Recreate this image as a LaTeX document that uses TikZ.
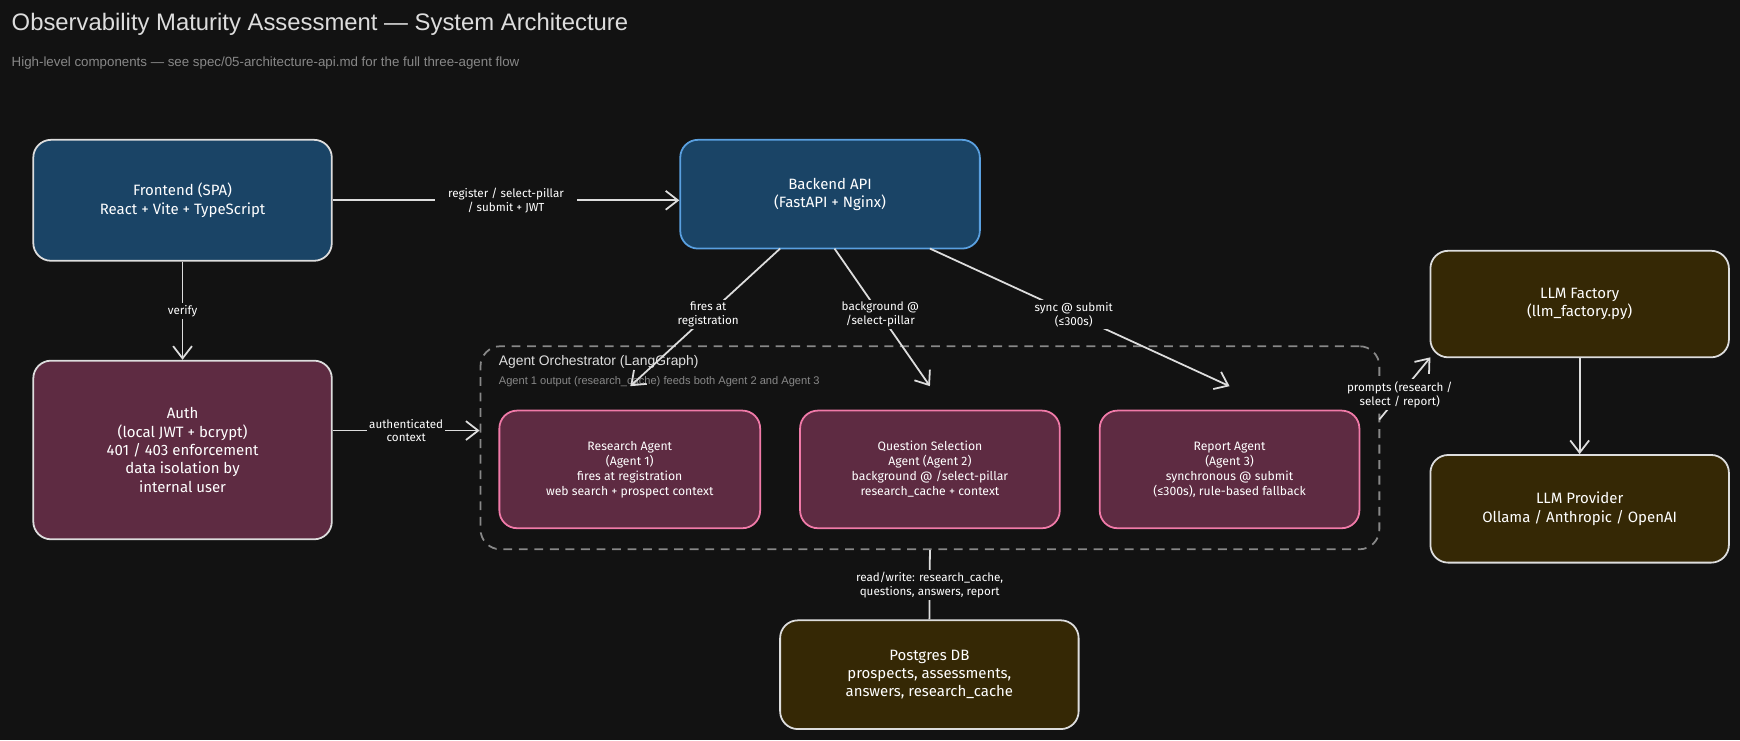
\documentclass[tikz,border=0pt]{standalone}
\usepackage{fontspec}
\setmainfont{Fira Sans}
\newfontfamily\titlefont{Liberation Sans}
\usetikzlibrary{arrows.meta}
\definecolor{bg}{HTML}{121212}
\definecolor{bluef}{HTML}{1A4466}
\definecolor{maroon}{HTML}{5E2B42}
\definecolor{brownf}{HTML}{352805}
\definecolor{edge}{HTML}{DDDDDD}
\definecolor{lblue}{HTML}{5AA0E0}
\definecolor{pink}{HTML}{F07AA8}
\definecolor{dgray}{HTML}{888888}
\tikzset{
 box/.style={draw=edge,line width=1.6pt,rounded corners=16pt,text=white,align=center,font=\fontsize{13.5}{16.5}\selectfont,inner sep=0pt},
 agent/.style={box,draw=pink,fill=maroon,font=\fontsize{11}{13.5}\selectfont},
 conn/.style={draw=edge,line width=1.6pt},
 arr/.style={conn,-{Straight Barb[length=11pt,width=17pt]}},
 lbl/.style={fill=bg,text=white,align=center,font=\fontsize{10.5}{12.5}\selectfont,inner sep=2pt},
}
\begin{document}
\begin{tikzpicture}[x=1pt,y=-1pt]
\fill[bg] (0,0) rectangle (1568,667);
\useasboundingbox (0,0) rectangle (1568,667);
\node[anchor=west,text=edge,font=\titlefont\fontsize{21.5}{25}\selectfont] (title) at (7,22) {Observability Maturity Assessment — System Architecture};
\node[anchor=west,text=dgray,font=\titlefont\fontsize{12}{14}\selectfont] (sub) at (7,57) {High-level components — see spec/05-architecture-api.md for the full three-agent flow};

\node[box,fill=bluef,minimum width=269pt,minimum height=109pt] (fe) at (164.5,180.5) {Frontend (SPA)\\React + Vite + TypeScript};
\node[box,fill=bluef,draw=lblue,minimum width=270pt,minimum height=98pt] (be) at (748,175) {Backend API\\(FastAPI + Nginx)};
\node[box,fill=maroon,minimum width=269pt,minimum height=161pt] (auth) at (164.5,405.5) {Auth\\(local JWT + bcrypt)\\401 / 403 enforcement\\data isolation by\\internal user};
\node[draw=dgray,dashed,dash pattern=on 8pt off 6pt,line width=1.6pt,rounded corners=18pt,minimum width=810pt,minimum height=183pt,inner sep=0pt] (orch) at (838,403.5) {};
\node[anchor=west,text=edge,font=\titlefont\fontsize{12.5}{14}\selectfont] (ot) at (446,326) {Agent Orchestrator (LangGraph)};
\node[anchor=west,text=dgray,font=\titlefont\fontsize{10}{12}\selectfont] (os) at (446,344) {Agent 1 output (research\_cache) feeds both Agent 2 and Agent 3};
\node[agent,minimum width=235pt,minimum height=106pt] (ra) at (567.5,423) {Research Agent\\(Agent 1)\\fires at registration\\web search + prospect context};
\node[agent,minimum width=234pt,minimum height=106pt] (qa) at (838,423) {Question Selection\\Agent (Agent 2)\\background @ /select-pillar\\research\_cache + context};
\node[agent,minimum width=234pt,minimum height=106pt] (rp) at (1108,423) {Report Agent\\(Agent 3)\\synchronous @ submit\\(≤300s), rule-based fallback};
\node[box,fill=brownf,minimum width=269pt,minimum height=96pt] (lf) at (1423.5,274) {LLM Factory\\(llm\_factory.py)};
\node[box,fill=brownf,minimum width=269pt,minimum height=97pt] (lp) at (1423.5,458.5) {LLM Provider\\Ollama / Anthropic / OpenAI};
\node[box,fill=brownf,minimum width=269pt,minimum height=98pt] (pg) at (837.5,608) {Postgres DB\\prospects, assessments,\\answers, research\_cache};

\coordinate (a1) at (703,224); \coordinate (a1e) at (568,348);
\coordinate (a2) at (752,224); \coordinate (a2e) at (838,348);
\coordinate (a3) at (838,224); \coordinate (a3e) at (1108,348);
\coordinate (p1) at (1243,378); \coordinate (p2) at (1289,322);

\draw[arr] (fe.east) -- node[lbl,inner xsep=12pt] {register / select-pillar\\/ submit + JWT} (be.west |- fe.east);
\draw[arr] (fe.south) -- node[lbl] {verify} (auth.north);
\draw[arr] (auth.east |- 0,388) -- node[lbl] {authenticated\\context} (orch.west |- 0,388);
\draw[arr] (a1) -- node[lbl,pos=0.48] {fires at\\registration} (a1e);
\draw[arr] (a2) -- node[lbl,pos=0.48] {background @\\/select-pillar} (a2e);
\draw[arr] (a3) -- node[lbl,pos=0.48] {sync @ submit\\(≤300s)} (a3e);
\draw[arr] (p1) -- node[lbl,pos=0.4] {prompts (research /\\select / report)} (p2);
\draw[arr] (lf.south) -- (lp.north);
\draw[conn] (orch.south) -- node[lbl,pos=0.5] {read/write: research\_cache,\\questions, answers, report} (pg.north);
\end{tikzpicture}
\end{document}
